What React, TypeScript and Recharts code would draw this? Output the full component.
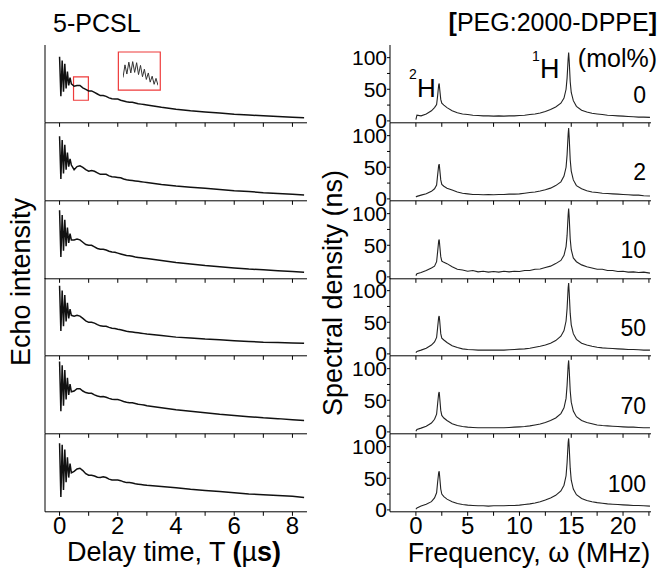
import React from 'react';
import { LineChart, Line, XAxis, YAxis, ReferenceArea } from 'recharts';

const FONT = '"Liberation Sans", Arial, Helvetica, sans-serif';

// delay time grid (µs), shared by the six echo traces
const echoTime = [
  0, 0.045, 0.09, 0.135, 0.18, 0.225, 0.27, 0.315, 0.36, 0.405,
  0.5, 0.6, 0.7, 0.8, 0.9, 1.0, 1.1, 1.2, 1.3, 1.4, 1.5, 1.6, 1.7, 1.8, 1.9, 2.0,
  2.1, 2.2, 2.3, 2.4, 2.5, 2.6, 2.7, 2.8, 2.9, 3.0,
  3.5, 4.0, 4.5, 5.0, 5.5, 6.0, 6.5, 7.0, 7.5, 8.0, 8.4,
];

// echo intensity, % of panel height
const echo0 = [85, 34, 80, 40, 76, 44, 66, 48, 58, 50,
  47, 48, 48, 45, 43, 41, 41, 39, 37, 35, 35, 34, 32, 31, 30.5, 30.5, 29, 28, 27, 26.5, 26.5, 25.5, 24.5, 24, 23.5, 23,
  20, 17.5, 15.5, 14, 12.5, 11, 10, 9, 8, 7, 6.5];
const echo2 = [83, 28, 78, 35, 72, 40, 62, 44, 54, 46,
  40, 44, 45, 43, 40, 38, 39, 38, 36, 34, 34, 34, 32, 31, 30.5, 30, 29.5, 28, 27, 26.5, 26, 25.5, 25, 24.5, 24, 23.5,
  21, 19, 17.5, 16, 14.5, 13, 12, 10.5, 9.5, 8.5, 7.5];
const echo10 = [88, 28, 82, 36, 76, 42, 66, 46, 58, 50,
  50, 51, 50, 47, 44, 43, 43, 41, 39, 38, 38, 37, 35.5, 34.5, 34, 33, 32, 31, 30, 29.5, 29, 28, 27.5, 27, 26.5, 26,
  23.5, 21, 19, 17, 15.5, 14, 12.5, 11.5, 10.5, 9.5, 8.5];
const echo50 = [90, 32, 84, 38, 78, 44, 68, 48, 60, 52,
  51, 52, 51, 48, 45, 43, 43, 42, 40, 38.5, 38, 38, 36.5, 35.5, 35, 34, 33.5, 32.5, 31.5, 31, 30.5, 30, 29.5, 29, 28.5, 28,
  26, 24, 23, 21.5, 20.5, 19.5, 18.5, 17.5, 17, 16.5, 16];
const echo70 = [93, 29, 88, 36, 82, 44, 72, 50, 64, 54,
  55, 58, 58, 55, 53, 52, 52, 50, 48.5, 47.5, 48, 47, 45.5, 44.5, 44, 44, 43, 41.5, 40.5, 40, 40, 39, 38, 37.5, 37, 36,
  33.5, 31, 29, 27, 25, 23.5, 22, 20.5, 19.5, 18, 17];
const echo100 = [88, 19, 86, 28, 80, 38, 70, 44, 62, 50,
  52, 55, 56, 53, 49, 47, 47, 46, 44.5, 44, 45, 44, 42, 41, 41, 41, 40, 38.5, 37.5, 37.5, 37, 36, 35.5, 35, 34.5, 34,
  32.5, 31, 29, 27.5, 26, 24.5, 23, 22, 21, 20, 18.5];

// magnified piece of the first trace (inset)
const insetTime = [0.5, 0.527, 0.553, 0.58, 0.607, 0.633, 0.66, 0.687, 0.713, 0.74,
  0.767, 0.793, 0.82, 0.847, 0.873, 0.9, 0.927, 0.953, 0.98];
const insetValues = [35, 82, 48, 92, 52, 94, 54, 90, 46, 80, 38, 66, 28, 52, 18, 40, 10, 32, 6];

// frequency grid (MHz) for the spectra
const freq = [
  0, 0.1, 0.5, 1.0, 1.5, 1.8, 2.0, 2.1, 2.2, 2.25, 2.3, 2.4, 2.5, 2.7, 3.0,
  3.5, 4.0, 4.5, 5.0, 5.5, 6.0, 6.5, 7.0, 7.5, 8.0, 8.5, 9.0, 9.5, 10.0, 10.5, 11.0, 11.5, 12.0, 12.5, 13.0, 13.5,
  14.0, 14.3, 14.5, 14.6, 14.7, 14.75, 14.8, 14.9, 15.0, 15.2, 15.5,
  16.0, 16.5, 17.0, 17.5, 18.0, 18.5, 19.0, 19.5, 20.0, 20.5, 21.0, 21.5, 22.0, 22.6,
];

// spectral density (ns)
const spec0 = [2, 9, 8, 11, 16, 21, 26, 40, 57, 59, 50, 34, 28, 25, 21,
  16, 13, 11, 10, 9, 8.5, 8, 8, 7.5, 8, 7.5, 8, 8, 8.5, 9, 10, 11, 12.5, 15, 18, 22,
  28, 36, 50, 68, 98, 108, 96, 62, 45, 32, 23,
  17, 14, 12, 11, 10, 9, 8.5, 8, 7.5, 7, 6.5, 6, 6, 5.5];
const spec2 = [3, 4, 6, 8, 12, 16, 22, 38, 53, 55, 47, 30, 23, 20, 17,
  14, 11, 9, 8, 7, 7, 6.5, 7, 6.5, 7, 7, 7.5, 7.5, 8, 9, 10, 11, 12.5, 14.5, 17, 21,
  27, 36, 50, 70, 102, 112, 98, 62, 44, 30, 21,
  16, 13, 11, 10, 9, 8.5, 8, 7.5, 7, 6.5, 6, 6, 5, 4.5];
const spec10 = [2, 5, 7, 10, 14, 17, 24, 40, 57, 59, 50, 32, 25, 23, 21,
  16, 12, 11, 9, 10, 8, 9, 7.5, 8.5, 7.5, 9, 8, 9, 8.5, 10, 10, 12, 12.5, 15, 17, 21,
  26, 34, 48, 66, 98, 108, 95, 60, 43, 30, 24,
  19, 16, 14, 12, 12, 10, 10, 8.5, 9, 7.5, 8, 7, 7.5, 6];
const spec50 = [2, 4, 6, 9, 14, 19, 26, 42, 58, 60, 52, 32, 25, 22, 18,
  13, 10, 8, 7, 6.5, 6, 6, 6, 6, 6, 6, 6.5, 7, 7.5, 8, 9, 10.5, 12, 14, 17, 21,
  28, 37, 52, 72, 104, 112, 98, 64, 46, 32, 23,
  17, 14, 12, 10.5, 9.5, 9, 8.5, 8, 7.5, 7, 7, 6.5, 6, 6];
const spec70 = [1, 4, 6, 9, 14, 20, 28, 45, 61, 63, 54, 34, 26, 22, 18,
  13, 10, 8.5, 7.5, 7, 6.5, 6.5, 6.5, 6.5, 6.5, 6.5, 7, 7.5, 8, 8.5, 9.5, 11, 12.5, 15, 18, 22,
  29, 38, 53, 74, 105, 113, 99, 65, 47, 33, 24,
  18, 15, 13, 11, 10, 9.5, 9, 8.5, 8, 7.5, 7.5, 7, 6.5, 6.5];
const spec100 = [1, 3, 6, 9, 13, 19, 27, 44, 59, 61, 52, 33, 25, 21, 17,
  13, 10, 8.5, 7.5, 7, 6.5, 6.5, 6, 6.5, 6.5, 6.5, 7, 7, 7.5, 8.5, 9.5, 11, 13, 15.5, 19, 23,
  30, 39, 54, 75, 106, 113, 100, 66, 47, 33, 24,
  18, 15, 13, 11.5, 10.5, 9.5, 9, 8.5, 8, 7.5, 7, 7, 6.5, 6];

const molLabels = ['0', '2', '10', '50', '70', '100'];
const echoSeries = [echo0, echo2, echo10, echo50, echo70, echo100];
const specSeries = [spec0, spec2, spec10, spec50, spec70, spec100];

const timeTicks = [0, 1, 2, 3, 4, 5, 6, 7, 8];
const freqTicks = [0, 2.5, 5, 7.5, 10, 12.5, 15, 17.5, 20, 22.5];
const densityTicks = [0, 25, 50, 75, 100];

const TOP = 45;
const PANEL_H = 77.8;

const EchoPanel = ({ values, index, last }: { values: number[]; index: number; last: boolean }) => {
  const data = echoTime.map((t, i) => ({ t, v: values[i] }));
  const axisH = last ? 50 : 8;
  return (
    <div style={{ position: 'absolute', left: 0, top: TOP + index * PANEL_H }}>
      <LineChart width={315} height={PANEL_H + axisH} data={data} margin={{ top: 0, right: 8, bottom: 0, left: 0 }}>
        <XAxis
          dataKey="t"
          type="number"
          domain={[-0.5, 8.5]}
          ticks={timeTicks}
          interval={0}
          height={axisH}
          tickSize={4}
          tickMargin={1}
          stroke="#000"
          tickFormatter={(v: number) => (last && v % 2 === 0 ? String(v) : '')}
          tick={{ fontSize: 24, fill: '#000', fontFamily: FONT }}
        />
        <YAxis type="number" domain={[0, 100]} width={45} tick={false} tickLine={false} stroke="#000" />
        {index === 0 && (
          <ReferenceArea x1={0.48} x2={0.99} y1={29} y2={59} fill="none" stroke="#ee3b3b" strokeWidth={1.2} ifOverflow="visible" />
        )}
        {index === 0 && (
          <ReferenceArea x1={2.02} x2={3.46} y1={42} y2={91} fill="none" stroke="#ee3b3b" strokeWidth={1.2} ifOverflow="visible" />
        )}
        <Line type="linear" dataKey="v" stroke="#111" strokeWidth={1.5} dot={false} isAnimationActive={false} />
      </LineChart>
    </div>
  );
};

const SpecPanel = ({ values, index, last }: { values: number[]; index: number; last: boolean }) => {
  const data = freq.map((f, i) => ({ f, v: values[i] }));
  const axisH = last ? 50 : 10;
  return (
    <div style={{ position: 'absolute', left: 350, top: TOP + index * PANEL_H }}>
      <LineChart width={301} height={PANEL_H + axisH} data={data} margin={{ top: 0, right: 0, bottom: 0, left: 0 }}>
        <XAxis
          dataKey="f"
          type="number"
          domain={[-2.5, 22.7]}
          ticks={freqTicks}
          interval={0}
          height={axisH}
          tickSize={4}
          tickMargin={1}
          stroke="#000"
          tickFormatter={(v: number) => (last && v % 5 === 0 ? String(v) : '')}
          tick={{ fontSize: 24, fill: '#000', fontFamily: FONT }}
        />
        <YAxis
          type="number"
          domain={[-3, 120]}
          ticks={densityTicks}
          interval={0}
          width={40}
          tickSize={3}
          tickMargin={0}
          stroke="#000"
          tickFormatter={(v: number) => (v % 50 === 0 ? String(v) : '')}
          tick={{ fontSize: 21, fill: '#000', fontFamily: FONT }}
        />
        <Line type="linear" dataKey="v" stroke="#222" strokeWidth={1.1} dot={false} isAnimationActive={false} />
      </LineChart>
    </div>
  );
};

const Inset = () => {
  const data = insetTime.map((t, i) => ({ t, v: insetValues[i] }));
  return (
    <div style={{ position: 'absolute', left: 123, top: 60 }}>
      <LineChart width={35} height={27} data={data} margin={{ top: 0, right: 0, bottom: 0, left: 0 }}>
        <XAxis dataKey="t" type="number" domain={['dataMin', 'dataMax']} hide />
        <YAxis type="number" domain={[0, 100]} hide />
        <Line type="linear" dataKey="v" stroke="#333" strokeWidth={1} dot={false} isAnimationActive={false} />
      </LineChart>
    </div>
  );
};

export default function App() {
  return (
    <div style={{ position: 'absolute', left: 0, top: 0, width: 660, height: 569, background: '#fff', fontFamily: FONT }}>
      {echoSeries.map((s, i) => (
        <EchoPanel key={'e' + i} values={s} index={i} last={i === echoSeries.length - 1} />
      ))}
      {specSeries.map((s, i) => (
        <SpecPanel key={'s' + i} values={s} index={i} last={i === specSeries.length - 1} />
      ))}
      <Inset />
      <svg width={660} height={569} style={{ position: 'absolute', left: 0, top: 0, pointerEvents: 'none' }} fontFamily={FONT} fill="#000">
        <text x={53} y={32} fontSize={25}>5-PCSL</text>
        <text x={657} y={31} fontSize={25} textAnchor="end">
          <tspan fontWeight="bold">[</tspan>PEG:2000-DPPE<tspan fontWeight="bold">]</tspan>
        </text>
        <text transform="translate(30,282) rotate(-90)" fontSize={27} textAnchor="middle">Echo intensity</text>
        <text transform="translate(342,293) rotate(-90)" fontSize={27} textAnchor="middle">Spectral density (ns)</text>
        <text x={174} y={561} fontSize={27} textAnchor="middle">
          Delay time, T <tspan fontWeight="bold">(</tspan>µ<tspan fontWeight="bold">s)</tspan>
        </text>
        <text x={529} y={562} fontSize={27} textAnchor="middle">Frequency, ω (MHz)</text>
        <text x={657} y={67} fontSize={25} textAnchor="end">(mol%)</text>
        <text x={532} y={61} fontSize={14}>1</text>
        <text x={540} y={78} fontSize={27}>H</text>
        <text x={409} y={79} fontSize={14}>2</text>
        <text x={417} y={97} fontSize={26}>H</text>
        {molLabels.map((m, i) => (
          <text key={m} x={646} y={TOP + i * PANEL_H + 57.5} fontSize={23} textAnchor="end">{m}</text>
        ))}
      </svg>
    </div>
  );
}
